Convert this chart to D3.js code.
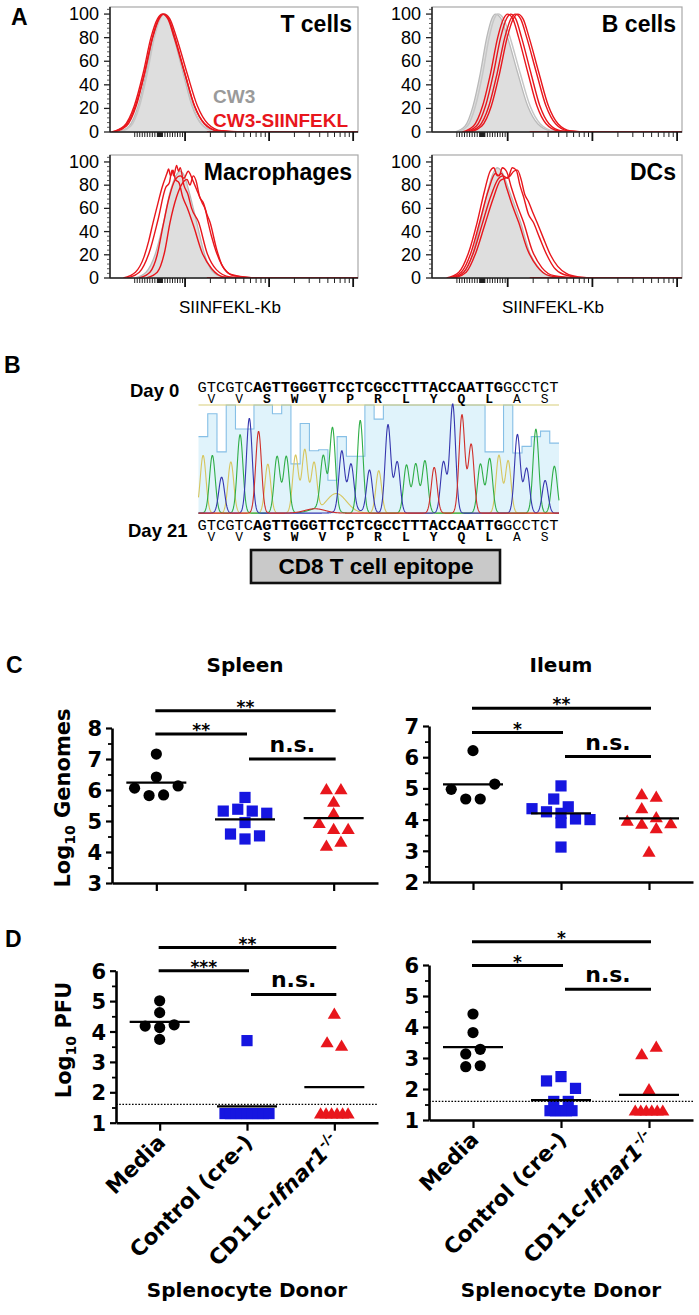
<!DOCTYPE html>
<html><head><meta charset="utf-8">
<script src="https://cdn.jsdelivr.net/npm/d3@7/dist/d3.min.js"></script>
<style>
html,body{margin:0;padding:0;background:#fff;}
svg{display:block;}
</style></head>
<body>
<svg id="fig" width="699" height="1315" xmlns="http://www.w3.org/2000/svg"></svg>
<script>
// ====================== DATA ======================
// ---- Panel A: flow histograms (x = display channel 0-1024, y = % of max) ----
const histTitles = ["T cells", "B cells", "Macrophages", "DCs"];
const histYTicks = [0, 20, 40, 60, 80, 100];
const histYMinor = [4,8,12,16,24,28,32,36,44,48,52,56,64,68,72,76,84,88,92,96,104];
const histXMajorTicks = [1000, 10000, 100000];
const histXMinorTicks = [-1000,-900,-800,-700,-600,-500,-400,-300,-200,-100,-90,-80,-70,-60,-50,-40,-30,-20,-10,0,
  10,20,30,40,50,60,70,80,90,100,200,300,400,500,600,700,800,900,
  2000,3000,4000,5000,6000,7000,8000,9000,20000,30000,40000,50000,60000,70000,80000,90000];
const histXLabel = "SIINFEKL-Kb";
const legendLabels = ["CW3", "CW3-SIINFEKL"];

const tcellGray  = [[33,0],[79,5],[116,22],[149,50],[178,80],[202,96],[219,100],[240,96],[264,80],[302,50],[339,22],[376,7],[426,1],[508,0]];
const tcellGray2 = [[40,0],[86,5],[122,22],[154,50],[183,80],[207,96],[224,100],[245,96],[268,80],[305,50],[342,22],[378,7],[428,1],[510,0]];
const tcellRed1  = [[7,0],[58,5],[100,22],[137,50],[169,80],[196,96],[215,100],[239,96],[265,80],[308,50],[349,22],[391,7],[447,1],[540,0]];
const tcellRed2  = [[18,0],[68,5],[108,22],[143,50],[175,80],[201,96],[219,100],[242,96],[268,80],[309,50],[349,22],[389,7],[443,1],[531,0]];
const tcellRed3  = [[9,0],[62,5],[105,22],[143,50],[176,80],[203,96],[223,100],[247,96],[275,80],[318,50],[361,22],[404,7],[461,1],[555,0]];

const bcellGray  = [[94,0],[135,5],[168,22],[198,50],[224,80],[245,96],[260,100],[283,96],[310,80],[351,50],[392,22],[433,7],[488,1],[578,0]];
const bcellGray2 = [[104,0],[145,5],[178,22],[208,50],[234,80],[255,96],[270,100],[293,96],[320,80],[361,50],[402,22],[443,7],[498,1],[588,0]];
const bcellRed1  = [[124,0],[170,5],[207,22],[240,50],[269,80],[293,96],[310,100],[331,96],[355,80],[393,50],[430,22],[467,7],[517,1],[599,0]];
const bcellRed2  = [[136,0],[182,5],[219,22],[252,50],[281,80],[305,96],[322,100],[343,96],[367,80],[405,50],[442,22],[479,7],[529,1],[611,0]];
const bcellRed3  = [[146,0],[194,5],[233,22],[267,50],[298,80],[323,96],[341,100],[363,96],[388,80],[428,50],[467,22],[506,7],[558,1],[644,0]];
const bcellRed4  = [[156,0],[204,5],[243,22],[277,50],[308,80],[333,96],[351,100],[373,96],[398,80],[438,50],[477,22],[516,7],[568,1],[654,0]];

const macGray  = [[103,0],[149,5],[186,20],[219,46],[248,74],[272,88],[289,92],[307,88],[327,74],[360,46],[391,20],[422,6],[465,1],[535,0]];
const macRed1  = [[70,0],[121,5],[162,22],[198,50],[230,78],[245,82],[256,93],[263,88],[275,97],[283,92],[290,95],[305,80],[322,72],[337,60],[366,48],[400,22],[440,7],[495,1],[590,0]];
const macRed2  = [[55,0],[105,5],[140,18],[160,32],[178,48],[195,62],[215,78],[235,90],[242,94],[250,88],[260,93],[270,85],[285,82],[300,70],[320,60],[345,45],[380,22],[420,8],[470,1],[560,0]];
const macRed3  = [[150,0],[195,5],[225,22],[248,48],[275,70],[300,82],[318,85],[330,80],[344,88],[355,84],[370,70],[385,65],[400,55],[413,48],[440,25],[465,10],[510,2],[600,0]];
const macRed4  = [[120,0],[165,5],[195,20],[219,45],[245,70],[270,85],[290,88],[305,86],[323,92],[340,85],[360,75],[380,65],[395,58],[405,48],[430,28],[460,12],[500,3],[590,0]];

const dcGray  = [[85,0],[130,5],[165,20],[198,48],[228,75],[250,90],[267,95],[290,90],[315,76],[363,48],[400,22],[440,8],[490,1],[570,0]];
const dcRed1  = [[60,0],[110,5],[150,22],[185,48],[215,75],[238,92],[253,95],[268,88],[285,90],[305,78],[330,62],[355,48],[390,25],[430,10],[480,2],[560,0]];
const dcRed2  = [[70,0],[120,5],[160,22],[195,48],[230,75],[260,90],[275,88],[288,95],[305,92],[325,78],[350,62],[375,48],[410,24],[450,9],[500,2],[600,0]];
const dcRed3  = [[80,0],[130,5],[170,22],[205,46],[240,70],[270,85],[290,88],[310,86],[329,95],[345,93],[360,80],[375,70],[395,55],[415,48],[440,35],[470,20],[500,9],[540,3],[620,0]];
const dcRed4  = [[90,0],[140,5],[180,22],[215,45],[250,68],[280,84],[300,86],[320,88],[335,92],[350,93],[365,85],[380,72],[395,66],[410,58],[430,48],[455,35],[485,20],[515,10],[550,4],[600,1],[680,0]];

// ---- Panel B: sequencing ----
const seqDay0  = "GTCGTCAGTTGGGTTCCTCGCCTTTACCAATTGGCCTCT";
const seqDay21 = "GTCGTCAGTTGGGTTCCTCGCCTTTACCAATTGGCCTCT";
const epitopeRange = [6, 33];           // bold nucleotides [start, end)
const aminoAcids = ["V","V","S","W","V","P","R","L","Y","Q","L","A","S"];
const epitopeCodons = [2, 11];          // bold codons [start, end)
const peakHeights = [53,53,33,47,72,87,75,45,52,52,53,58,45,48,76,55,42,85,39,39,81,47,44,45,48,42,47,100,90,63,45,50,53,48,72,41,77,30,43];
const qualityScores = [71,92,57,100,78,78,100,100,92,100,46,83,58,59,31,71,53,53,100,87,100,100,100,100,100,100,100,100,100,100,100,57,57,100,56,62,71,76,65];
const minorPeaks = [["G",14.9,18],["A",12.6,4],["T",13.2,5],["C",16.5,3]];
const dayLabels = ["Day 0", "Day 21"];
const epitopeLabel = "CD8 T cell epitope";

// ---- Panels C & D ----
const groups = ["Media", "Control (cre-)", "CD11c-Ifnar1-/-"];
const genomeSpleenTicks = [3,4,5,6,7,8];
const genomeIleumTicks  = [2,3,4,5,6,7];
const pfuTicks = [1,2,3,4,5,6];

const spleenGenMedia   = [7.16,6.42,6.06,5.82,5.84,6.13];
const spleenGenControl = [5.76,5.32,5.38,5.32,5.25,4.95,4.58,4.42,4.52];
const spleenGenCD11c   = [6.02,6.02,5.62,5.25,4.93,4.74,4.74,4.20,4.33];
const ileumGenMedia    = [6.21,4.97,4.66,4.66,5.14];
const ileumGenControl  = [5.08,4.66,4.41,4.35,4.25,4.20,4.02,3.90,4.00,3.12];
const ileumGenCD11c    = [4.81,4.73,4.36,3.96,3.86,3.72,3.88,4.07,2.97];

const spleenPfuMedia   = [5.01,4.62,4.18,4.13,4.22,3.74];
const spleenPfuControl = [3.70,1.3,1.3,1.3,1.3,1.3,1.3,1.3,1.3,1.3];
const spleenPfuCD11c   = [4.58,3.64,3.53,1.3,1.3,1.3,1.3,1.3,1.3];
const ileumPfuMedia    = [4.42,3.82,3.13,3.28,2.72,2.75];
const ileumPfuControl  = [2.26,2.40,2.02,1.6,1.6,1.3,1.3,1.3,1.3,1.3];
const ileumPfuCD11c    = [3.12,3.36,1.99,1.3,1.3,1.3,1.3,1.3,1.3];
const pfuDetectionLimit = 1.6;

// significance: [group a, group b, label, y value of bar]
const spleenGenSig = [[0,2,"**",8.56],[0,1,"**",7.81],[1,2,"n.s.",7.0]];
const ileumGenSig  = [[0,2,"**",7.57],[0,1,"*",6.79],[1,2,"n.s.",6.02]];
const spleenPfuSig = [[0,2,"**",6.76],[0,1,"***",6.0],[1,2,"n.s.",5.22]];
const ileumPfuSig  = [[0,2,"*",6.75],[0,1,"*",5.98],[1,2,"n.s.",5.22]];

const tissueTitles = ["Spleen", "Ileum"];
const yTitleGenomes = ["Log", "10", " Genomes"];
const yTitlePfu = ["Log", "10", " PFU"];
const xTitle = "Splenocyte Donor";
const panelLetters = ["A","B","C","D"];

// ====================== DRAWING ======================
const svg = d3.select("#fig");
const SANS = "'Liberation Sans', Arial, sans-serif";
const BOLDF = "'DejaVu Sans', sans-serif";
const MONO = "'Liberation Mono', 'Courier New', monospace";
const RED = "#e8161c", BLUE = "#1616e0";

function letter(t, x, y){
  svg.append("text").attr("x",x).attr("y",y).text(t)
    .attr("font-family",SANS).attr("font-weight","bold").attr("font-size",23).attr("fill","#000");
}
letter(panelLetters[0], 11, 25);
letter(panelLetters[1], 4, 373);
letter(panelLetters[2], 6, 673);
letter(panelLetters[3], 5, 947);

// ---------- Panel A ----------
const chOf = v => v >= 1000 ? 310 + 347*Math.log10(v/1000) : 206 + 104*v/1000;
const histPanels = [
  {title: histTitles[0], fill: tcellGray, grays: [tcellGray2], reds: [tcellRed1, tcellRed2, tcellRed3], legend: true},
  {title: histTitles[1], fill: bcellGray, grays: [bcellGray2], reds: [bcellRed1, bcellRed2, bcellRed3, bcellRed4]},
  {title: histTitles[2], fill: macGray, grays: [], reds: [macRed1, macRed2, macRed3, macRed4]},
  {title: histTitles[3], fill: dcGray, grays: [], reds: [dcRed1, dcRed2, dcRed3, dcRed4]}
];
const histBoxes = [{x0:110,x1:358,y0:7,y1:132},{x0:432,x1:682,y0:7,y1:132},{x0:110,x1:358,y0:155,y1:278},{x0:432,x1:682,y0:155,y1:278}];

histPanels.forEach((p, k) => {
  const b = histBoxes[k];
  const x = d3.scaleLinear().domain([0,1024]).range([b.x0, b.x1]);
  const y = d3.scaleLinear().domain([0,106]).range([b.y1, b.y0]);
  const g = svg.append("g");
  const cid = "clipA" + k;
  svg.append("clipPath").attr("id", cid).append("rect")
    .attr("x", b.x0).attr("y", b.y0).attr("width", b.x1-b.x0).attr("height", b.y1-b.y0);
  g.append("rect").attr("x",b.x0).attr("y",b.y0).attr("width",b.x1-b.x0).attr("height",b.y1-b.y0)
    .attr("fill","none").attr("stroke","#a8a8a8").attr("stroke-width",1.2);
  const cg = g.append("g").attr("clip-path", `url(#${cid})`);
  const area = d3.area().x(d=>x(d[0])).y0(y(0)).y1(d=>y(d[1])).curve(d3.curveMonotoneX);
  const line = d3.line().x(d=>x(d[0])).y(d=>y(d[1])).curve(d3.curveMonotoneX);
  cg.append("path").attr("d", area(p.fill)).attr("fill","#dedede").attr("stroke","#b9b9b9").attr("stroke-width",1.3);
  p.grays.forEach(s => cg.append("path").attr("d", line(s)).attr("fill","none").attr("stroke","#c6c6c6").attr("stroke-width",1.5));
  p.reds.forEach(s => cg.append("path").attr("d", line(s)).attr("fill","none").attr("stroke",RED).attr("stroke-width",1.4));
  cg.append("line").attr("x1",x(400)).attr("x2",b.x1).attr("y1",y(0)-0.5).attr("y2",y(0)-0.5).attr("stroke",RED).attr("stroke-width",1);
  g.append("line").attr("x1",b.x0).attr("x2",b.x0).attr("y1",b.y0).attr("y2",b.y1).attr("stroke","#222").attr("stroke-width",1.5);
  g.append("line").attr("x1",b.x0).attr("x2",b.x1).attr("y1",b.y1).attr("y2",b.y1).attr("stroke","#222").attr("stroke-width",1.5);
  histYTicks.forEach(v => {
    g.append("line").attr("x1",b.x0-6).attr("x2",b.x0).attr("y1",y(v)).attr("y2",y(v)).attr("stroke","#222").attr("stroke-width",1.3);
    g.append("text").attr("x",b.x0-11).attr("y",y(v)+6).attr("text-anchor","end").text(v)
      .attr("font-family",SANS).attr("font-size",18).attr("fill","#000");
  });
  histYMinor.forEach(v => g.append("line").attr("x1",b.x0-3).attr("x2",b.x0).attr("y1",y(v)).attr("y2",y(v)).attr("stroke","#333").attr("stroke-width",0.8));
  histXMinorTicks.forEach(v => {
    const xx = x(chOf(v)); if (xx < b.x0 || xx > b.x1) return;
    g.append("line").attr("x1",xx).attr("x2",xx).attr("y1",b.y1).attr("y2",b.y1+5).attr("stroke","#222").attr("stroke-width",1);
  });
  histXMajorTicks.forEach(v => {
    const xx = x(chOf(v)); if (xx < b.x0 || xx > b.x1+1) return;
    g.append("line").attr("x1",xx).attr("x2",xx).attr("y1",b.y1).attr("y2",b.y1+9).attr("stroke","#111").attr("stroke-width",1.8);
  });
  g.append("text").attr("x", b.x1-6).attr("y", b.y0+25).attr("text-anchor","end").text(p.title)
    .attr("font-family",SANS).attr("font-weight","bold").attr("font-size",23).attr("fill","#000");
  if (p.legend) {
    g.append("text").attr("x",213).attr("y",103).text(legendLabels[0]).attr("font-family",SANS)
      .attr("font-weight","bold").attr("font-size",19).attr("fill","#9a9a9a");
    g.append("text").attr("x",213).attr("y",127).text(legendLabels[1]).attr("font-family",SANS)
      .attr("font-weight","bold").attr("font-size",19).attr("fill",RED);
  }
  if (k >= 2) {
    g.append("text").attr("x",(b.x0+b.x1)/2-4).attr("y",313).attr("text-anchor","middle").text(histXLabel)
      .attr("font-family",SANS).attr("font-size",17).attr("fill","#000");
  }
});

// ---------- Panel B ----------
(function(){
  const cx0 = 198.5, cx1 = 559, cTop = 405, cBot = 514;
  const nb = seqDay0.length;
  const xb = d3.scaleLinear().domain([0, nb]).range([cx0, cx1]);
  const yh = d3.scaleLinear().domain([0, 100]).range([cBot, cTop]);
  const g = svg.append("g");
  const qpts = qualityScores.map((q,i)=>[i,q]).concat([[nb, qualityScores[nb-1]]]);
  const qarea = d3.area().x(d=>xb(d[0])).y0(yh(0)).y1(d=>yh(d[1])).curve(d3.curveStepAfter);
  const qline = d3.line().x(d=>xb(d[0])).y(d=>yh(d[1])).curve(d3.curveStepAfter);
  g.append("path").attr("d", qarea(qpts)).attr("fill","#e0f3fb");
  g.append("path").attr("d", qline(qpts)).attr("fill","none").attr("stroke","#86bfe6").attr("stroke-width",1.1);
  g.append("line").attr("x1",cx0).attr("x2",cx1).attr("y1",cTop).attr("y2",cTop).attr("stroke","#d8cd7a").attr("stroke-width",1.2);
  const colors = {A:"#cf2f2a", C:"#3636ae", G:"#d6c65e", T:"#2fae47"};
  const sigma = 0.31;
  ["G","T","C","A"].forEach(base => {
    const pts = [];
    for (let t = 0; t <= nb; t += 0.04) {
      let v = 0;
      for (let i = 0; i < nb; i++) if (seqDay0[i] === base) {
        const d = (t - (i + 0.5)) / sigma; if (Math.abs(d) < 6) v += peakHeights[i] * Math.exp(-0.5*d*d);
      }
      minorPeaks.forEach(m => { if (m[0] === base) { const d = (t - m[1]) / 1.1; v += m[2]*Math.exp(-0.5*d*d); } });
      pts.push([t, Math.min(v, 100) + 0.8]);
    }
    g.append("path").attr("d", d3.line().x(d=>xb(d[0])).y(d=>yh(d[1]))(pts))
      .attr("fill","none").attr("stroke",colors[base]).attr("stroke-width",1.1);
  });
  const fs = 15.43, cw = fs*0.6, sx = 197.5;
  function seqLine(seq, yBase, yAA){
    const t = g.append("text").attr("x", sx).attr("y", yBase).attr("font-family", MONO).attr("font-size", fs).attr("fill","#000");
    t.append("tspan").text(seq.slice(0, epitopeRange[0]));
    t.append("tspan").attr("font-weight","bold").text(seq.slice(epitopeRange[0], epitopeRange[1]));
    t.append("tspan").text(seq.slice(epitopeRange[1]));
    aminoAcids.forEach((a, k) => {
      g.append("text").attr("x", sx + (3*k + 1.5)*cw).attr("y", yAA).attr("text-anchor","middle")
        .attr("font-family", MONO).attr("font-size", 13)
        .attr("font-weight", (k >= epitopeCodons[0] && k < epitopeCodons[1]) ? "bold" : "normal").text(a);
    });
  }
  seqLine(seqDay0, 392, 403);
  seqLine(seqDay21, 530, 541);
  g.append("text").attr("x",130).attr("y",397).text(dayLabels[0]).attr("font-family",SANS).attr("font-weight","bold").attr("font-size",18.5);
  g.append("text").attr("x",128).attr("y",537).text(dayLabels[1]).attr("font-family",SANS).attr("font-weight","bold").attr("font-size",18.5);
  g.append("rect").attr("x",251).attr("y",550).attr("width",249).attr("height",33).attr("fill","#c9c9c9").attr("stroke","#111").attr("stroke-width",2.6);
  g.append("text").attr("x",376).attr("y",574).attr("text-anchor","middle").text(epitopeLabel)
    .attr("font-family",SANS).attr("font-weight","bold").attr("font-size",22.5);
})();

// ---------- Panels C & D ----------
function swarm(vals, y, dMin){
  const pts = vals.map((v,i)=>({v, i, py: y(v), dx: 0}));
  const bins = d3.groups(pts, p => Math.floor((p.v - dMin)/0.4 + 1e-9)).sort((a,b)=>b[0]-a[0]).map(d=>d[1]);
  const place = row => {
    const n = row.length, same = row.every(r => r.v === row[0].v);
    const s = (same && n > 4) ? 5.5 : Math.min(14.5, 60/Math.max(1, n-1));
    row.sort((a,b)=>a.i-b.i);
    row.forEach((p,k) => p.dx = (k - (n-1)/2)*s);
  };
  const rows = [];
  bins.forEach(b => {
    place(b);
    const prev = rows[rows.length-1];
    if (prev) {
      const coll = b.some(p => prev.some(q => Math.hypot(p.dx-q.dx, p.py-q.py) < 10.5));
      if (coll && prev.length + b.length <= 5) { const m = prev.concat(b); place(m); rows[rows.length-1] = m; return; }
    }
    rows.push(b);
  });
  return pts;
}

const scatterPanels = [
  {series:[spleenGenMedia, spleenGenControl, spleenGenCD11c], ticks: genomeSpleenTicks, sig: spleenGenSig, limit: null, title: tissueTitles[0], ytitle: yTitleGenomes},
  {series:[ileumGenMedia, ileumGenControl, ileumGenCD11c], ticks: genomeIleumTicks, sig: ileumGenSig, limit: null, title: tissueTitles[1]},
  {series:[spleenPfuMedia, spleenPfuControl, spleenPfuCD11c], ticks: pfuTicks, sig: spleenPfuSig, limit: pfuDetectionLimit, xlabels: true, ytitle: yTitlePfu},
  {series:[ileumPfuMedia, ileumPfuControl, ileumPfuCD11c], ticks: pfuTicks, sig: ileumPfuSig, limit: pfuDetectionLimit, xlabels: true}
];
const scatterBoxes = [
  {x0:112, x1:378, yb:883, yt:728, ytx:70, yty:798},
  {x0:429, x1:693, yb:882, yt:726},
  {x0:116, x1:378, yb:1122.7, yt:970.7, ytx:71, yty:1040},
  {x0:429, x1:693, yb:1120, yt:965}
];

scatterPanels.forEach((p, k) => {
  const b = scatterBoxes[k];
  const x = d3.scalePoint().domain(groups).range([b.x0, b.x1]).padding(0.5);
  const dom = d3.extent(p.ticks);
  const y = d3.scaleLinear().domain(dom).range([b.yb, b.yt]);
  const g = svg.append("g");
  const AXW = 2.6;
  const ya = g.append("g").attr("transform", `translate(${b.x0},0)`)
    .call(d3.axisLeft(y).tickValues(p.ticks).tickSize(6).tickSizeOuter(0).tickPadding(4).tickFormat(d3.format("d")));
  ya.select(".domain").attr("stroke","#000").attr("stroke-width",AXW);
  ya.selectAll(".tick line").attr("stroke","#000").attr("stroke-width",2.2);
  ya.selectAll(".tick text").attr("font-family",BOLDF).attr("font-weight","bold").attr("font-size",21).attr("fill","#000").attr("dy","0.36em");
  const minors = p.ticks.slice(0,-1).map(t => t + 0.5);
  g.append("g").attr("transform", `translate(${b.x0},0)`)
    .call(d3.axisLeft(y).tickValues(minors).tickSize(4).tickSizeOuter(0).tickFormat(""))
    .call(s => { s.select(".domain").remove(); s.selectAll(".tick line").attr("stroke","#000").attr("stroke-width",1.8); });
  const xa = g.append("g").attr("transform", `translate(0,${b.yb})`)
    .call(d3.axisBottom(x).tickSize(8).tickSizeOuter(0).tickFormat(""));
  xa.select(".domain").attr("stroke","#000").attr("stroke-width",AXW);
  xa.selectAll(".tick line").attr("stroke","#000").attr("stroke-width",2.2);

  const syms = [
    s => s.append("circle").attr("r",5.6).attr("fill","#000"),
    s => s.append("rect").attr("x",-5.6).attr("y",-5.6).attr("width",11.2).attr("height",11.2).attr("fill",BLUE),
    s => s.append("path").attr("d","M0,-6.3L6.6,4.9L-6.6,4.9Z").attr("fill",RED)
  ];
  p.series.forEach((vals, gi) => {
    const pts = swarm(vals, y, dom[0]);
    pts.forEach(pt => {
      const s = g.append("g").attr("transform", `translate(${x(groups[gi]) + pt.dx},${pt.py})`);
      syms[gi](s);
    });
  });
  if (p.limit != null) {
    g.append("line").attr("x1",b.x0).attr("x2",b.x1).attr("y1",y(p.limit)).attr("y2",y(p.limit))
      .attr("stroke","#000").attr("stroke-width",1.3).attr("stroke-dasharray","1.6,1.6");
  }
  p.series.forEach((vals, gi) => {
    const m = d3.mean(vals), cx = x(groups[gi]);
    g.append("line").attr("x1",cx-30).attr("x2",cx+30).attr("y1",y(m)).attr("y2",y(m)).attr("stroke","#000").attr("stroke-width",2.2);
  });
  p.sig.forEach(([a, c, lab, lv]) => {
    const xa1 = x(groups[a]) + (a > 0 ? 4 : -1), xa2 = x(groups[c]) + 2;
    const yy = y(lv);
    g.append("line").attr("x1",xa1).attr("x2",xa2).attr("y1",yy).attr("y2",yy).attr("stroke","#000").attr("stroke-width",3);
    const ns = lab === "n.s.";
    g.append("text").attr("x",(xa1+xa2)/2).attr("y", ns ? yy-7 : yy+2).attr("text-anchor","middle").text(lab)
      .attr("font-family",BOLDF).attr("font-weight","bold").attr("font-size", ns ? 22 : 17).attr("fill","#000");
  });
  if (p.title) {
    g.append("text").attr("x", x(groups[1])).attr("y", 672).attr("text-anchor","middle").text(p.title)
      .attr("font-family",BOLDF).attr("font-weight","bold").attr("font-size",20);
  }
  if (p.ytitle) {
    const t = g.append("text").attr("transform", `translate(${b.ytx},${b.yty}) rotate(-90)`).attr("text-anchor","middle")
      .attr("font-family",BOLDF).attr("font-weight","bold").attr("font-size",21);
    t.append("tspan").text(p.ytitle[0]);
    t.append("tspan").attr("font-size",14).attr("dy",5).text(p.ytitle[1]);
    t.append("tspan").attr("dy",-5).text(p.ytitle[2]);
  }
  if (p.xlabels) {
    groups.forEach((gname, gi) => {
      const t = g.append("text").attr("transform", `translate(${x(gname)+7},${b.yb+21}) rotate(-45)`)
        .attr("text-anchor","end").attr("font-family",BOLDF).attr("font-weight","bold").attr("font-size",21.5);
      if (gi < 2) t.text(gname);
      else {
        t.append("tspan").text("CD11c-");
        t.append("tspan").attr("font-style","italic").text("Ifnar1");
        t.append("tspan").attr("font-size",14).attr("dy",-9).text("-/-");
      }
    });
    g.append("text").attr("x", x(groups[1])).attr("y", 1297).attr("text-anchor","middle").text(xTitle)
      .attr("font-family",BOLDF).attr("font-weight","bold").attr("font-size",20);
  }
});
</script>
</body></html>
